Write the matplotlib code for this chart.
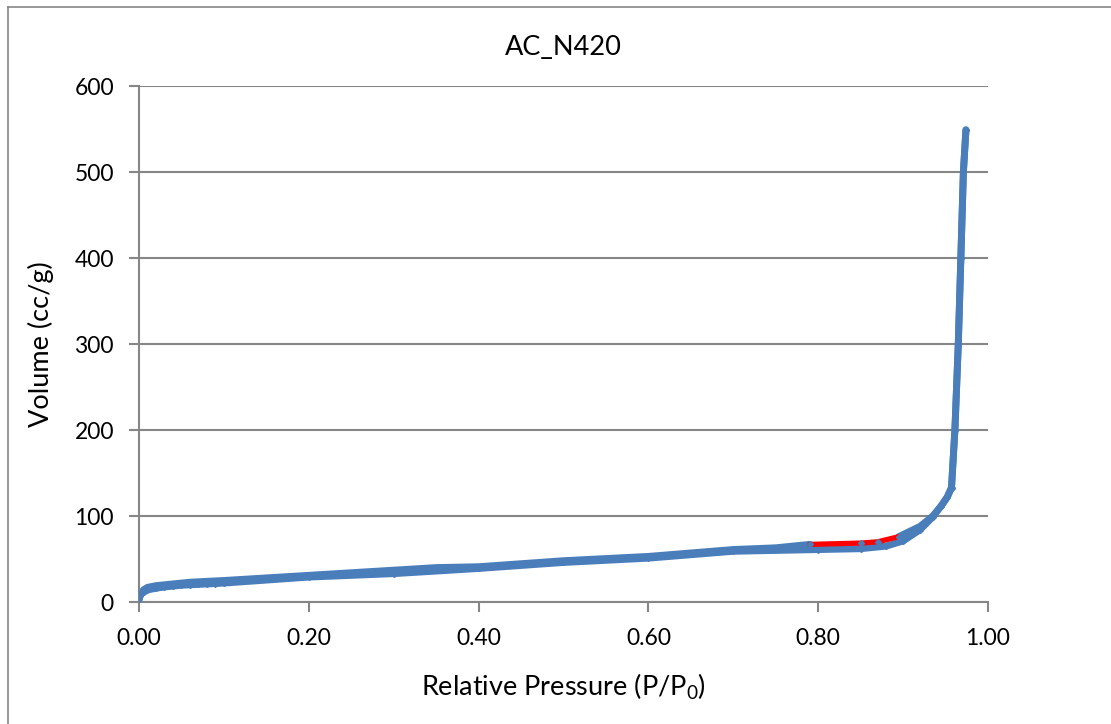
import matplotlib
matplotlib.use("Agg")
import matplotlib.pyplot as plt
from matplotlib.lines import Line2D

plt.rcParams['font.family'] = ['Lato', 'DejaVu Sans']
plt.rcParams['mathtext.fontset'] = 'custom'
plt.rcParams['mathtext.rm'] = 'Lato'
plt.rcParams['mathtext.it'] = 'Lato'

# adsorption branch (lower)
p_ads = [0.0, 0.001, 0.003, 0.006, 0.01, 0.02, 0.03, 0.04, 0.05, 0.06, 0.07,
         0.08, 0.09, 0.10, 0.20, 0.30, 0.40, 0.50, 0.60, 0.70, 0.80, 0.85,
         0.88, 0.90, 0.92, 0.935, 0.945, 0.952, 0.957, 0.961, 0.965, 0.968,
         0.971, 0.974]
v_ads = [3, 7, 10, 12, 14, 16, 17.5, 18.5, 19.5, 20, 20.5, 21, 21.5, 22, 29,
         33, 39, 46, 51, 59, 61, 62, 65, 71, 84, 99, 112, 122, 133, 200, 300,
         400, 500, 549]

# desorption branch (upper)
p_des = [0.974, 0.971, 0.968, 0.965, 0.961, 0.957, 0.952, 0.945, 0.935, 0.92,
         0.895, 0.87, 0.85, 0.79, 0.75, 0.70, 0.60, 0.50, 0.40, 0.35, 0.30,
         0.20, 0.10, 0.09, 0.08, 0.07, 0.06, 0.05, 0.04, 0.03, 0.02, 0.01,
         0.005]
v_des = [549, 500, 400, 300, 200, 133, 122, 112, 100, 88, 76, 70, 68.5, 67,
         63, 61, 53, 48, 41, 40, 37, 31, 25, 24.5, 24, 23.5, 23, 22, 21, 20,
         19, 17, 14]

# part of the upper branch drawn in red
p_red = [0.79, 0.85, 0.87, 0.895]
v_red = [67, 68.5, 70, 76]

blue = '#4A7EBB'
grid_c = '#868686'
red_lo, red_hi = min(p_red), max(p_red)

fig = plt.figure(figsize=(11.11, 7.24), dpi=100)
ax = fig.add_axes([0.1251, 0.1685, 0.8893 - 0.1251, 0.8812 - 0.1685])

line_kw = dict(color=blue, lw=5, solid_capstyle='round',
               solid_joinstyle='round', zorder=3)
ax.plot(p_ads, v_ads, **line_kw)
hi = [(p, v) for p, v in zip(p_des, v_des) if p >= red_hi]
lo = [(p, v) for p, v in zip(p_des, v_des) if p <= red_lo]
ax.plot([p for p, v in hi], [v for p, v in hi], **line_kw)
ax.plot([p for p, v in lo], [v for p, v in lo], **line_kw)
ax.plot(p_red, v_red, color='#FF0000', lw=3.8, solid_capstyle='round',
        solid_joinstyle='round', zorder=4)
ax.plot(p_ads, v_ads, ls='none', marker='D', ms=3, color=blue, zorder=5)
ax.plot(p_des, v_des, ls='none', marker='D', ms=3, color=blue, zorder=5)

ax.set_xlim(0, 1.0)
ax.set_ylim(0, 600)
ax.set_xticks([0, 0.2, 0.4, 0.6, 0.8, 1.0])
ax.set_xticklabels(['0.00', '0.20', '0.40', '0.60', '0.80', '1.00'])
ax.set_yticks(range(0, 601, 100))

ax.yaxis.grid(True, color=grid_c, lw=1.5)
ax.set_axisbelow(True)
for s in ['top', 'right']:
    ax.spines[s].set_visible(False)
for s in ['left', 'bottom']:
    ax.spines[s].set_color(grid_c)
    ax.spines[s].set_linewidth(1.5)
ax.tick_params(axis='both', colors=grid_c, width=1.5, length=7,
               labelsize=16.5, labelcolor='black')
ax.tick_params(axis='x', pad=12)
ax.tick_params(axis='y', pad=11)

ax.set_title('AC_N420', fontsize=19.5, pad=22)
ax.set_xlabel('Relative Pressure (P/P$_0$)', fontsize=19.5, labelpad=16)
ax.set_ylabel('Volume (cc/g)', fontsize=19.5, labelpad=15)

# chart frame (left and top edges)
fig.add_artist(Line2D([8 / 1111, 8 / 1111], [0, 1 - 7 / 724], color=grid_c,
                      lw=1.2, transform=fig.transFigure))
fig.add_artist(Line2D([8 / 1111, 1], [1 - 7 / 724, 1 - 7 / 724], color=grid_c,
                      lw=1.2, transform=fig.transFigure))

fig.savefig('out.png', dpi=100)
